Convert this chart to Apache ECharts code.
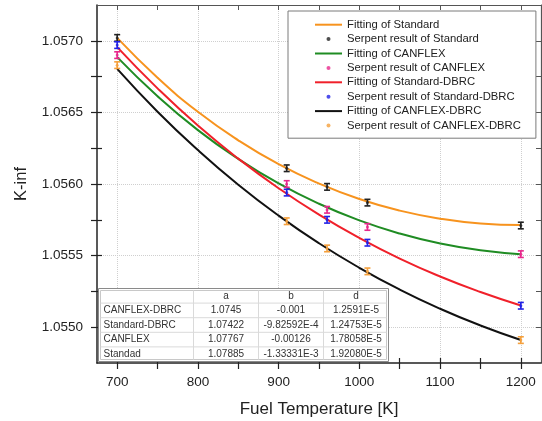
<!DOCTYPE html>
<html>
<head>
<meta charset="utf-8">
<script src="https://cdn.jsdelivr.net/npm/echarts@6/dist/echarts.min.js"></script>
<style>
  html, body { margin: 0; padding: 0; background: #fff; }
  #chart { width: 542px; height: 421px; }
</style>
</head>
<body>
<div id="chart"></div>
<script>
// fitted curves
const fitTemps = [700, 750, 800, 850, 900, 950, 1000, 1050, 1100, 1150, 1200]
const fitStandard = [1.057020, 1.056742, 1.056504, 1.056305, 1.056138, 1.056003, 1.055895, 1.055814, 1.055758, 1.055724, 1.055713]
const fitCanflex = [1.056886, 1.056613, 1.056376, 1.056175, 1.056004, 1.055862, 1.055746, 1.055654, 1.055585, 1.055537, 1.055510]
const fitStandardDbrc = [1.056956, 1.056668, 1.056408, 1.056177, 1.055970, 1.055786, 1.055623, 1.055479, 1.055354, 1.055246, 1.055152]
const fitCanflexDbrc = [1.056804, 1.056505, 1.056237, 1.055995, 1.055779, 1.055586, 1.055415, 1.055263, 1.055129, 1.055012, 1.054911]

// serpent results with error bars
const serpentTemps = [700, 910, 960, 1010, 1200]
const serpentStandard = [1.05702, 1.05611, 1.05598, 1.05587, 1.05571]
const serpentCanflex = [1.05690, 1.05600, 1.05582, 1.05570, 1.05551]
const serpentStandardDbrc = [1.05697, 1.05594, 1.05575, 1.05559, 1.05515]
const serpentCanflexDbrc = [1.05683, 1.05574, 1.05555, 1.05539, 1.05491]
const serpentError = [0.000023, 0.000023, 0.000023, 0.000023, 0.000023]

// axis ticks
const xMajorTicks = [700, 800, 900, 1000, 1100, 1200]
const xAllTicks = [700, 750, 800, 850, 900, 950, 1000, 1050, 1100, 1150, 1200]
const yMajorTicks = [1.0550, 1.0555, 1.0560, 1.0565, 1.0570]
const yAllTicks = [1.0550, 1.05525, 1.0555, 1.05575, 1.0560, 1.05625, 1.0565, 1.05675, 1.0570]

// fit parameter table
const tableHeader = ['', 'a', 'b', 'd']
const tableNames = ['CANFLEX-DBRC', 'Standard-DBRC', 'CANFLEX', 'Standad']
const tableA = ['1.0745', '1.07422', '1.07767', '1.07885']
const tableB = ['-0.001', '-9.82592E-4', '-0.00126', '-1.33331E-3']
const tableD = ['1.2591E-5', '1.24753E-5', '1.78058E-5', '1.92080E-5']

const font = 'Liberation Sans, Arial, sans-serif'
const xMin = 675
const xMax = 1225
const yMin = 1.05475
const yMax = 1.05725

const zip = (xs, ys) => xs.map((x, i) => [x, ys[i]])
const zipErr = (xs, ys, es) => xs.map((x, i) => [x, ys[i], es[i]])

function xAxisOf(extra) {
  return Object.assign({
    type: 'value', min: xMin, max: xMax, position: 'bottom',
    axisLine: { show: false },
    axisTick: { show: false },
    axisLabel: { show: false },
    splitLine: { show: false }
  }, extra)
}
function yAxisOf(extra) {
  return Object.assign({
    type: 'value', min: yMin, max: yMax, position: 'left',
    axisLine: { show: false },
    axisTick: { show: false },
    axisLabel: { show: false },
    splitLine: { show: false }
  }, extra)
}

function errorBar(params, api) {
  const x = api.value(0)
  const y = api.value(1)
  const e = api.value(2)
  const hi = api.coord([x, y + e])
  const lo = api.coord([x, y - e])
  const w = 3
  const style = { stroke: api.visual('color'), lineWidth: 1.6 }
  return {
    type: 'group',
    children: [
      { type: 'line', shape: { x1: hi[0], y1: hi[1], x2: lo[0], y2: lo[1] }, style },
      { type: 'line', shape: { x1: hi[0] - w, y1: hi[1], x2: hi[0] + w, y2: hi[1] }, style },
      { type: 'line', shape: { x1: lo[0] - w, y1: lo[1], x2: lo[0] + w, y2: lo[1] }, style }
    ]
  }
}

function fitSeries(name, values, color) {
  return {
    name, type: 'line', data: zip(fitTemps, values),
    smooth: true, symbol: 'none', color,
    itemStyle: { color },
    lineStyle: { width: 2, color }, z: 2
  }
}
function serpentSeries(name, values, color) {
  return [{
    name, type: 'scatter', data: zip(serpentTemps, values),
    symbol: 'circle', symbolSize: 3, itemStyle: { color }, z: 4
  }, {
    type: 'custom', data: zipErr(serpentTemps, values, serpentError),
    renderItem: errorBar, itemStyle: { color }, silent: true, z: 5
  }]
}

// table built as graphic elements
function buildTable() {
  const colX = [0, 95, 160, 225, 290]
  const rowH = 14.6
  const h = rowH * 5
  const children = [
    { type: 'rect', shape: { x: 0, y: 0, width: 290, height: h }, style: { fill: '#fff', stroke: '#8a8a8a', lineWidth: 1 } },
    { type: 'rect', shape: { x: 2, y: 2, width: 286, height: h - 4 }, style: { fill: 'none', stroke: '#c8c8c8', lineWidth: 1 } }
  ]
  for (let r = 1; r < 5; r++) {
    children.push({ type: 'line', shape: { x1: 2, y1: r * rowH, x2: 288, y2: r * rowH }, style: { stroke: '#dadada', lineWidth: 1 } })
  }
  for (let c = 1; c < 4; c++) {
    children.push({ type: 'line', shape: { x1: colX[c], y1: 2, x2: colX[c], y2: h - 2 }, style: { stroke: '#dadada', lineWidth: 1 } })
  }
  const cols = [tableNames, tableA, tableB, tableD]
  const rows = [tableHeader].concat(tableNames.map((n, i) => cols.map(col => col[i])))
  rows.forEach((row, r) => {
    row.forEach((txt, c) => {
      if (!txt) return
      const cx = c === 0 ? 5 : (colX[c] + colX[c + 1]) / 2
      children.push({
        type: 'text',
        style: {
          x: cx, y: r * rowH + rowH / 2, text: txt,
          fill: '#333', font: '10px ' + font,
          textAlign: c === 0 ? 'left' : 'center', textVerticalAlign: 'middle'
        }
      })
    })
  })
  children.forEach(ch => { ch.z = 100 })
  return { type: 'group', left: 98, top: 288, z: 100, children }
}

const fitNames = ['Fitting of Standard', 'Fitting of CANFLEX', 'Fitting of Standard-DBRC', 'Fitting of CANFLEX-DBRC']
const serpentNames = ['Serpent result of Standard', 'Serpent result of CANFLEX', 'Serpent result of Standard-DBRC', 'Serpent result of CANFLEX-DBRC']
const legendData = []
fitNames.forEach((n, i) => {
  legendData.push({ name: n, icon: 'path://M0,0L27,0L27,2L0,2Z' })
  legendData.push({ name: serpentNames[i], icon: 'circle' })
})

const chart = echarts.init(document.getElementById('chart'))
const axisColor = '#222'

chart.setOption({
  animation: false,
  textStyle: { fontFamily: font },
  grid: { left: 97, right: 1, top: 5, bottom: 58, outerBoundsMode: 'none', containLabel: false },
  legend: {
    orient: 'vertical', left: 288, top: 11,
    padding: [7, 15, 6, 27],
    itemWidth: 27, itemHeight: 4, itemGap: 1,
    borderColor: '#7a7a7a', borderWidth: 1, backgroundColor: '#fff',
    selectedMode: false,
    textStyle: { fontSize: 11.3, lineHeight: 13.4, color: '#222', fontFamily: font },
    data: legendData
  },
  xAxis: [
    xAxisOf({
      name: 'Fuel Temperature [K]', nameLocation: 'middle', nameGap: 38,
      nameTextStyle: { fontSize: 17, color: '#222', fontFamily: font },
      axisLine: { show: true, lineStyle: { color: axisColor, width: 1.5 } },
      axisTick: { show: true, inside: false, length: 6, customValues: xAllTicks, lineStyle: { color: axisColor, width: 1.2 } },
      axisLabel: { show: true, customValues: xMajorTicks, margin: 12, fontSize: 13.5, color: '#222', fontFamily: font, formatter: v => String(v) }
    }),
    xAxisOf({
      axisTick: { show: true, inside: true, length: 5, customValues: xAllTicks, lineStyle: { color: axisColor, width: 1.2 } }
    }),
    xAxisOf({
      position: 'top',
      axisLine: { show: true, lineStyle: { color: '#555', width: 1.2 } },
      axisTick: { show: true, inside: true, length: 5, customValues: xAllTicks, lineStyle: { color: '#555', width: 1 } }
    }),
    xAxisOf({
      axisTick: { show: false, customValues: xMajorTicks },
      splitLine: { show: true, lineStyle: { color: '#cfcfcf', width: 1, type: 'dotted' } }
    })
  ],
  yAxis: [
    yAxisOf({
      name: 'K-inf', nameLocation: 'middle', nameGap: 67,
      nameTextStyle: { fontSize: 16.5, color: '#222', fontFamily: font },
      axisLine: { show: true, lineStyle: { color: axisColor, width: 1.5 } },
      axisTick: { show: true, inside: false, length: 6, customValues: yAllTicks, lineStyle: { color: axisColor, width: 1.2 } },
      axisLabel: { show: true, customValues: yMajorTicks, margin: 14, fontSize: 13.5, color: '#222', fontFamily: font, formatter: v => v.toFixed(4) }
    }),
    yAxisOf({
      axisTick: { show: true, inside: true, length: 5, customValues: yAllTicks, lineStyle: { color: axisColor, width: 1.2 } }
    }),
    yAxisOf({
      position: 'right',
      axisLine: { show: true, lineStyle: { color: '#555', width: 1.2 } },
      axisTick: { show: true, inside: true, length: 5, customValues: yAllTicks, lineStyle: { color: '#555', width: 1 } }
    }),
    yAxisOf({
      axisTick: { show: false, customValues: yMajorTicks },
      splitLine: { show: true, lineStyle: { color: '#cfcfcf', width: 1, type: 'dotted' } }
    })
  ],
  graphic: { elements: [buildTable()] },
  series: [
    fitSeries(fitNames[0], fitStandard, '#f7931e'),
    fitSeries(fitNames[1], fitCanflex, '#1f8c23'),
    fitSeries(fitNames[2], fitStandardDbrc, '#f0202a'),
    fitSeries(fitNames[3], fitCanflexDbrc, '#111111'),
    ...serpentSeries(serpentNames[0], serpentStandard, '#222222'),
    ...serpentSeries(serpentNames[1], serpentCanflex, '#e8288c'),
    ...serpentSeries(serpentNames[2], serpentStandardDbrc, '#2222e6'),
    ...serpentSeries(serpentNames[3], serpentCanflexDbrc, '#f5a03c')
  ]
})
</script>
</body>
</html>
